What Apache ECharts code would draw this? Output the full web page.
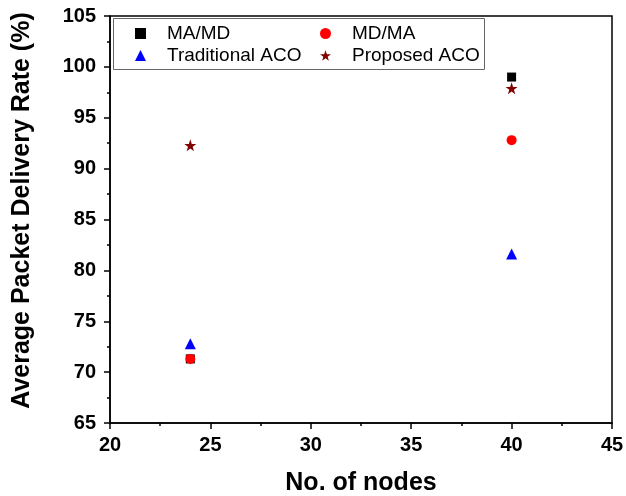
<!DOCTYPE html>
<html>
<head>
<meta charset="utf-8">
<script src="https://cdn.jsdelivr.net/npm/echarts@6/dist/echarts.min.js"></script>
<style>html,body{margin:0;padding:0;background:#fff;}#c{width:626px;height:496px;}</style>
</head>
<body>
<div id="c"></div>
<script>
const nodes = [24, 40];
const maMd = [71.3, 99.0];
const mdMa = [71.3, 92.8];
const tradAco = [72.8, 81.6];
const propAco = [92.3, 97.9];
const seriesNames = ['MA/MD', 'MD/MA', 'Traditional ACO', 'Proposed ACO'];

const pairs = (xs, ys) => xs.map((x, i) => [x, ys[i]]);
const font = 'Liberation Sans, Arial, sans-serif';
const chart = echarts.init(document.getElementById('c'));
const legendText = {fontFamily: font, fontSize: 19, color: '#000', lineHeight: 18, padding: [0, 0, 0, 16]};
chart.setOption({
  animation: false,
  backgroundColor: '#fff',
  grid: {left: 110, right: 14, top: 16, bottom: 73, show: true, borderColor: '#000', borderWidth: 1.5, outerBoundsMode: 'none', containLabel: false},
  legend: [
    {data: [seriesNames[0], seriesNames[2]], orient: 'vertical', left: 130, top: 19, itemWidth: 11, itemHeight: 11, itemGap: 3, textStyle: legendText},
    {data: [seriesNames[1], seriesNames[3]], orient: 'vertical', left: 315, top: 19, itemWidth: 11, itemHeight: 11, itemGap: 3, textStyle: legendText}
  ],
  graphic: [{type: 'rect', left: 111, top: 16, shape: {width: 371, height: 51}, style: {fill: 'none', stroke: '#666', lineWidth: 1}, z: 10}],
  xAxis: {
    type: 'value', min: 20, max: 45, interval: 5,
    name: 'No. of nodes', nameLocation: 'middle', nameGap: 48,
    nameTextStyle: {fontFamily: font, fontSize: 25, fontWeight: 'bold', color: '#000'},
    axisLine: {show: true, onZero: false, lineStyle: {color: '#000', width: 1.5}},
    axisTick: {show: true, inside: false, length: 6, lineStyle: {color: '#000', width: 1.5}},
    minorTick: {show: true, splitNumber: 2, length: 3, lineStyle: {color: '#000', width: 1.5}},
    splitLine: {show: false},
    axisLabel: {margin: 12, fontFamily: font, fontSize: 20, fontWeight: 'bold', color: '#000'}
  },
  yAxis: {
    type: 'value', min: 65, max: 105, interval: 5,
    name: 'Average Packet Delivery Rate (%)', nameLocation: 'middle', nameGap: 75,
    nameTextStyle: {fontFamily: font, fontSize: 25, fontWeight: 'bold', color: '#000', padding: [0, 0, 0, 18]},
    axisLine: {show: true, onZero: false, lineStyle: {color: '#000', width: 1.5}},
    axisTick: {show: true, inside: false, length: 6, lineStyle: {color: '#000', width: 1.5}},
    minorTick: {show: true, splitNumber: 2, length: 3, lineStyle: {color: '#000', width: 1.5}},
    splitLine: {show: false},
    axisLabel: {margin: 14, fontFamily: font, fontSize: 20, fontWeight: 'bold', color: '#000'}
  },
  series: [
    {name: seriesNames[0], type: 'scatter', symbol: 'rect', symbolSize: 9, itemStyle: {color: '#000', opacity: 1}, data: pairs(nodes, maMd)},
    {name: seriesNames[1], type: 'scatter', symbol: 'circle', symbolSize: 10, itemStyle: {color: '#ff0000', opacity: 1}, data: pairs(nodes, mdMa)},
    {name: seriesNames[2], type: 'scatter', symbol: 'triangle', symbolSize: 11, itemStyle: {color: '#0000ff', opacity: 1}, data: pairs(nodes, tradAco)},
    {name: seriesNames[3], type: 'scatter', symbol: 'path://M50,0 L61.8,35.1 L98.1,35.1 L68.8,56.7 L79.4,90.5 L50,69.6 L20.6,90.5 L31.2,56.7 L1.9,35.1 L38.2,35.1 Z', symbolSize: 12, itemStyle: {color: '#800000', opacity: 1}, data: pairs(nodes, propAco)}
  ]
});
</script>
</body>
</html>
